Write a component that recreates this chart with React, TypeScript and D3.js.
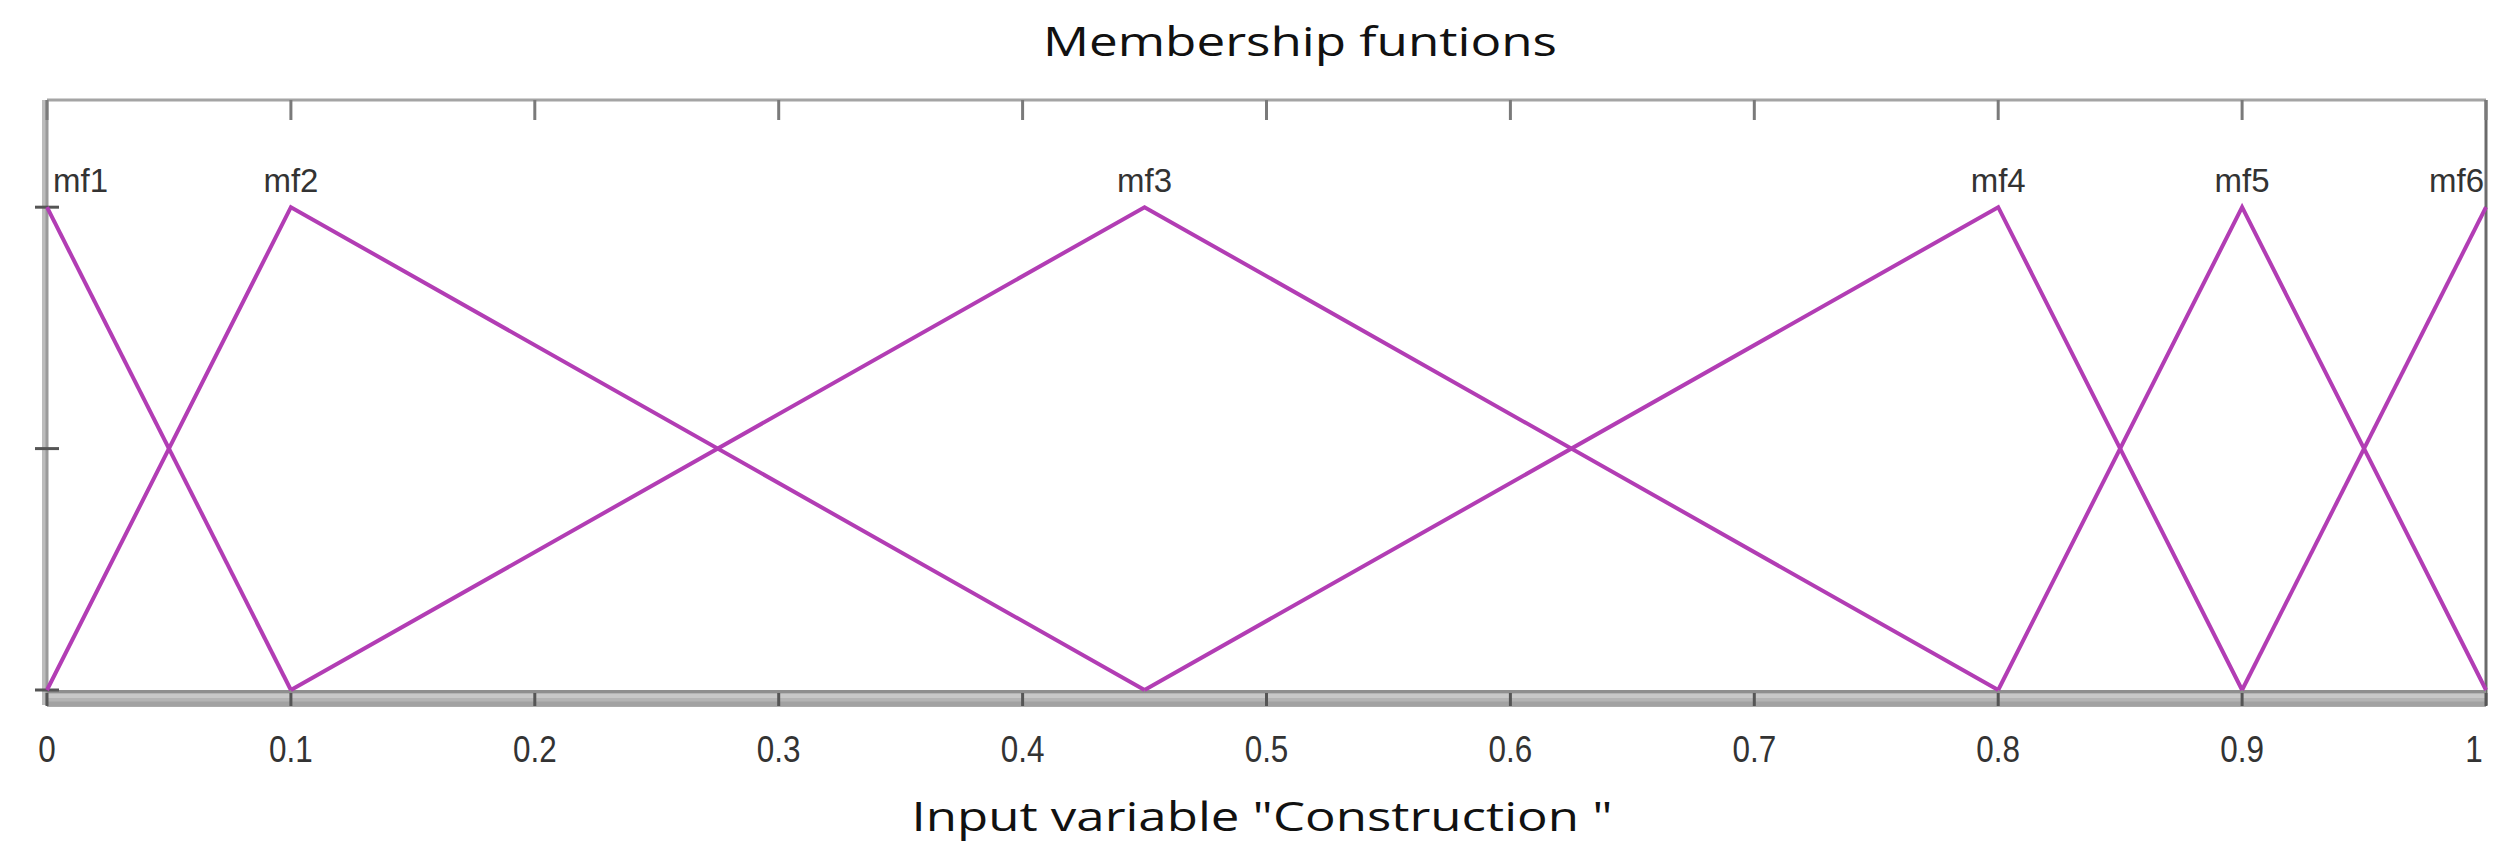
import React from 'react';
import * as d3 from 'd3';

const mfNames = ['mf1', 'mf2', 'mf3', 'mf4', 'mf5', 'mf6'];
// triangle params [a, b, c]
const mfParams = [
  [-0.1, 0, 0.1],
  [0, 0.1, 0.45],
  [0.1, 0.45, 0.8],
  [0.45, 0.8, 0.9],
  [0.8, 0.9, 1.0],
  [0.9, 1.0, 1.1],
];
const xTicks = [0, 0.1, 0.2, 0.3, 0.4, 0.5, 0.6, 0.7, 0.8, 0.9, 1];
const yTicks = [0, 0.5, 1];

const W = 2517;
const H = 855;
const left = 47, right = 2486, top = 100, bottom = 690;

const App = () => {
  const x = d3.scaleLinear().domain([0, 1]).range([left, right]);
  const y = d3.scaleLinear().domain([0, 1.222]).range([bottom, top]);

  const line = d3.line<number[]>()
    .x(d => x(d[0]))
    .y(d => y(d[1]));

  // clip a triangle to [0,1] on x
  const tri = (p: number[]) => {
    const [a, b, c] = p;
    const mu = (v: number) => v <= b ? (v - a) / (b - a) : (c - v) / (c - b);
    const xs = [Math.max(a, 0), b, Math.min(c, 1)];
    return xs.map(v => [v, Math.max(0, mu(v))]);
  };

  const labelFont = '"Liberation Sans", Arial, sans-serif';
  const titleFont = '"Open Sans", "Noto Sans", sans-serif';

  return (
    <svg width={W} height={H} style={{ position: 'absolute', left: 0, top: 0, display: 'block', background: '#fff' }}>
      <text x={1300} y={56} textAnchor="middle" fontFamily={titleFont} fontSize={40}
        textLength={514} lengthAdjust="spacingAndGlyphs" fill="#111">Membership funtions</text>

      {/* frame */}
      <line x1={left} x2={right} y1={top} y2={top} stroke="#a4a4a4" strokeWidth={3} />
      <line x1={left - 3} x2={left - 3} y1={top} y2={bottom + 15} stroke="#bcbcbc" strokeWidth={4} />
      <line x1={left} x2={left} y1={top} y2={bottom + 15} stroke="#9a9a9a" strokeWidth={3} />
      <line x1={right} x2={right} y1={top} y2={bottom + 15} stroke="#6a6a6a" strokeWidth={3} />
      <rect x={left} y={bottom} width={right - left} height={17} fill="#b4b4b4" />
      <line x1={left} x2={right} y1={bottom + 1.5} y2={bottom + 1.5} stroke="#8e8e8e" strokeWidth={3} />
      <line x1={left} x2={right} y1={bottom + 6} y2={bottom + 6} stroke="#c8c8c8" strokeWidth={4} />
      <line x1={left} x2={right} y1={bottom + 14} y2={bottom + 14} stroke="#a2a2a2" strokeWidth={5} />

      {/* x ticks */}
      {xTicks.map(t => (
        <g key={t}>
          <line x1={x(t)} x2={x(t)} y1={top} y2={top + 20} stroke="#7a7a7a" strokeWidth={3} />
          <line x1={x(t)} x2={x(t)} y1={bottom + 3} y2={bottom + 16} stroke="#555" strokeWidth={3} />
          <text transform={`translate(${t === 1 ? x(t) - 12 : x(t)},762) scale(0.85,1)`} textAnchor="middle"
            fontFamily={labelFont} fontSize={37} fill="#333">{String(t)}</text>
        </g>
      ))}

      {/* y ticks */}
      {yTicks.map(t => (
        <line key={t} x1={left - 12} x2={left + 12} y1={y(t)} y2={y(t)} stroke="#555" strokeWidth={3} />
      ))}

      {/* membership functions */}
      {mfParams.map((p, i) => (
        <path key={i} d={line(tri(p)) || ''} fill="none" stroke="#b23db4" strokeWidth={4} strokeLinejoin="miter" />
      ))}

      {/* mf labels */}
      {mfParams.map((p, i) => {
        const cx = x(p[1]);
        let anchor: 'start' | 'middle' | 'end' = 'middle';
        let lx = cx;
        if (cx - 29 < left) { anchor = 'start'; lx = left + 6; }
        else if (cx + 29 > right) { anchor = 'end'; lx = right - 2; }
        return (
          <text key={mfNames[i]} x={lx} y={192} textAnchor={anchor} fontFamily={labelFont}
            fontSize={33} fill="#333">{mfNames[i]}</text>
        );
      })}

      <text x={1262} y={831} textAnchor="middle" fontFamily={titleFont} fontSize={40}
        textLength={701} lengthAdjust="spacingAndGlyphs" fill="#111">Input variable "Construction "</text>
    </svg>
  );
};

export default App;
